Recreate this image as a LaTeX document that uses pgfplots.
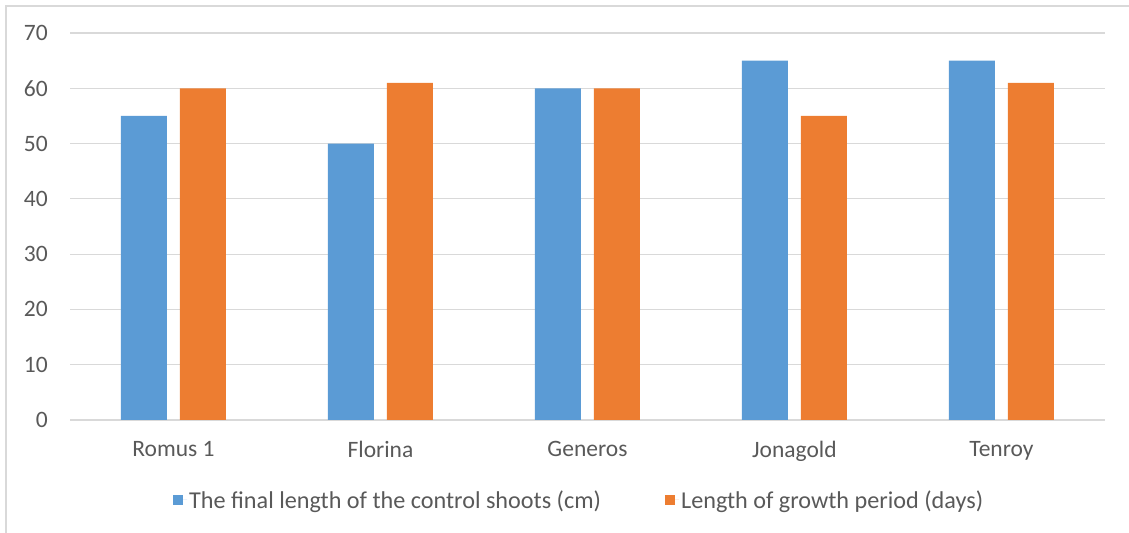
\documentclass[border=0pt]{standalone}
\usepackage{fontspec}
\setmainfont{Carlito}
\usepackage{pgfplots}
\pgfplotsset{compat=1.18}

\definecolor{serA}{HTML}{5B9BD5}
\definecolor{serB}{HTML}{ED7D31}
\definecolor{gridgray}{HTML}{D9D9D9}
\definecolor{labelgray}{HTML}{595959}

\newcommand{\chartfont}{\fontsize{23.5bp}{28bp}\selectfont}
\newcommand{\legendfont}{\fontsize{24.2bp}{29bp}\selectfont}

\begin{document}
\begin{tikzpicture}
  \useasboundingbox (0bp,0bp) rectangle (1129bp,533bp);
  % outer chart frame (only top and left edges fall inside the page)
  \draw[gridgray, line width=2bp] (6bp,-20bp) -- (6bp,527bp) -- (1150bp,527bp);
  \begin{axis}[
    at={(70bp,113bp)}, anchor=south west,
    scale only axis,
    width=1035bp, height=387bp,
    ybar=13bp, bar width=46bp,
    xmin=-0.5, xmax=4.5,
    ymin=0, ymax=70,
    ytick={0,10,...,70},
    xtick=data,
    xticklabels={Romus 1, Florina, Generos, Jonagold, Tenroy},
    axis line style={draw=none},
    major tick length=0pt,
    ymajorgrids,
    grid style={gridgray, line width=1.2bp},
    /pgf/number format/assume math mode=true,
    tick label style={font=\chartfont, text=labelgray},
    yticklabel style={anchor=east, inner sep=0pt, xshift=-22bp},
    xticklabel style={anchor=north, inner sep=0pt, yshift=-21bp},
    legend columns=2,
    legend style={
      draw=none, fill=none, font=\legendfont, text=labelgray,
      at={(axis description cs:0.0995,-0.2067)}, anchor=west,
      inner sep=0pt,
      /tikz/every even column/.append style={column sep=62bp},
    },
    legend cell align=left,
    legend image code/.code={\fill[#1, draw=none] (0bp,-5bp) rectangle (10bp,5bp);
      \path (0bp,0bp) -- (14bp,0bp);},
  ]
    \addplot[fill=serA, draw=none] coordinates {(0,55) (1,50) (2,60) (3,65) (4,65)};
    \addplot[fill=serB, draw=none] coordinates {(0,60) (1,61) (2,60) (3,55) (4,61)};
    \legend{The final length of the control shoots (cm), Length of growth period (days)}
  \end{axis}
\end{tikzpicture}
\end{document}
